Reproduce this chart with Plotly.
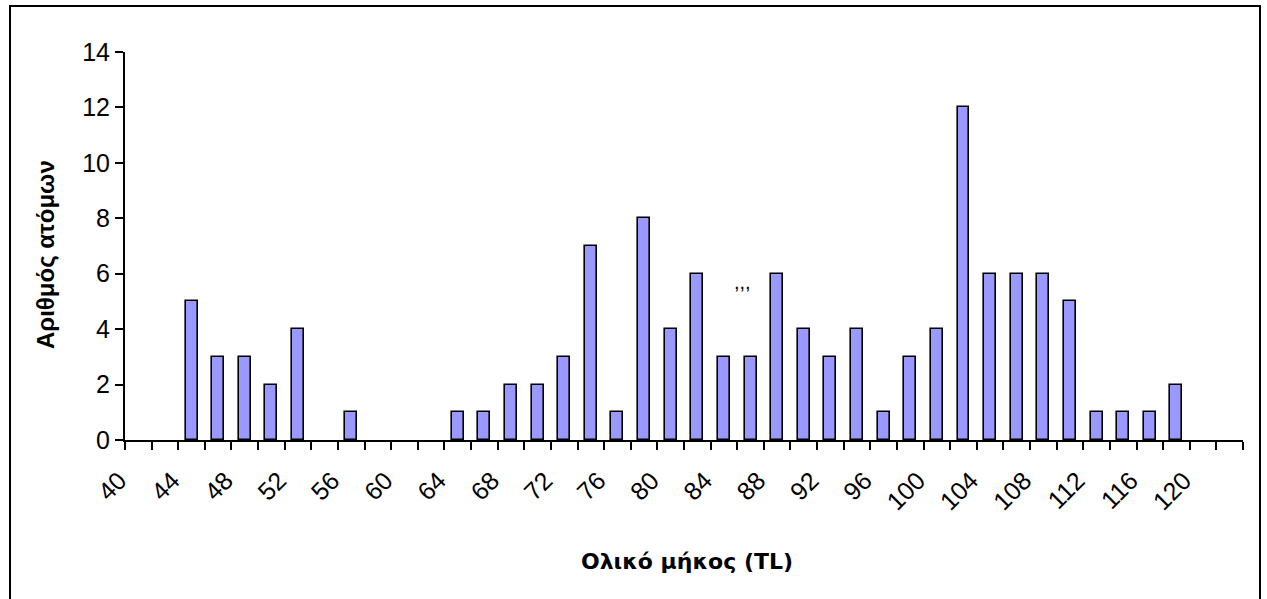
import plotly.graph_objects as go

# Data
lengths = [44, 46, 48, 50, 52, 56, 64, 66, 68, 70, 72, 74, 76, 78, 80, 82, 84, 86,
           88, 90, 92, 94, 96, 98, 100, 102, 104, 106, 108, 110, 112, 114, 116, 118]
counts = [5, 3, 3, 2, 4, 1, 1, 1, 2, 2, 3, 7, 1, 8, 4, 6, 3, 3,
          6, 4, 3, 4, 1, 3, 4, 12, 6, 6, 6, 5, 1, 1, 1, 2]
tick_labels = list(range(40, 121, 4))
y_ticks = list(range(0, 15, 2))

W, H = 1267, 599
L, R, T, B = 125, 24, 52, 159
pw, ph = W - L - R, H - T - B


def px_x(p):
    return (p - L) / pw


def px_y(p):
    return (H - B - p) / ph


fig = go.Figure()
fig.add_trace(go.Bar(
    x=lengths, y=counts, width=0.9,
    marker=dict(color="#9999FF", line=dict(color="black", width=1.6)),
    hoverinfo="x+y",
))

fig.update_layout(
    width=W, height=H,
    margin=dict(l=L, r=R, t=T, b=B, autoexpand=False),
    plot_bgcolor="white", paper_bgcolor="white",
    showlegend=False,
    font=dict(family="Liberation Sans, Arial, sans-serif", color="black"),
    bargap=0,
)

fig.update_xaxes(
    range=[39, 123],
    tickmode="array",
    tickvals=tick_labels,
    ticktext=[str(v) for v in tick_labels],
    tickangle=-45,
    ticks="",
    ticklabelshift=-19,
    ticklabelstandoff=14,
    tickfont=dict(size=25, family="Liberation Sans, Arial, sans-serif"),
    showline=True, linecolor="black", linewidth=2,
    showgrid=False, zeroline=False, automargin=False,
    minor=dict(ticks="outside", tick0=39, dtick=2, ticklen=8, tickwidth=2,
               tickcolor="black", showgrid=False),
)

fig.update_yaxes(
    range=[0, 14],
    tickmode="array", tickvals=y_ticks,
    ticks="outside", ticklen=8, tickwidth=2, tickcolor="black",
    tickfont=dict(size=25, family="Liberation Sans, Arial, sans-serif"),
    showline=True, linecolor="black", linewidth=2,
    showgrid=False, zeroline=False, automargin=False,
)

fig.add_annotation(
    text="<b>Αριθμός ατόμων</b>", textangle=-90,
    xref="paper", yref="paper", x=px_x(46), y=px_y(255),
    showarrow=False, xanchor="center", yanchor="middle",
    font=dict(size=24, family="Liberation Sans, Arial, sans-serif"),
)
fig.add_annotation(
    text="<b>Ολικό μήκος (TL)</b>",
    xref="paper", yref="paper", x=px_x(687), y=px_y(561),
    showarrow=False, xanchor="center", yanchor="middle",
    font=dict(size=22, family="DejaVu Sans, sans-serif"),
)
fig.add_annotation(
    text=",,,", x=85.36, y=5.7, xref="x", yref="y",
    showarrow=False, font=dict(size=20),
)

fig.add_shape(
    type="rect", xref="paper", yref="paper",
    x0=px_x(10), x1=px_x(1260), y0=px_y(606), y1=px_y(6),
    line=dict(color="black", width=2), fillcolor="rgba(0,0,0,0)", layer="below",
)

fig.write_html("out.html", config={"displayModeBar": False},
               post_script="document.body.style.margin='0';")
